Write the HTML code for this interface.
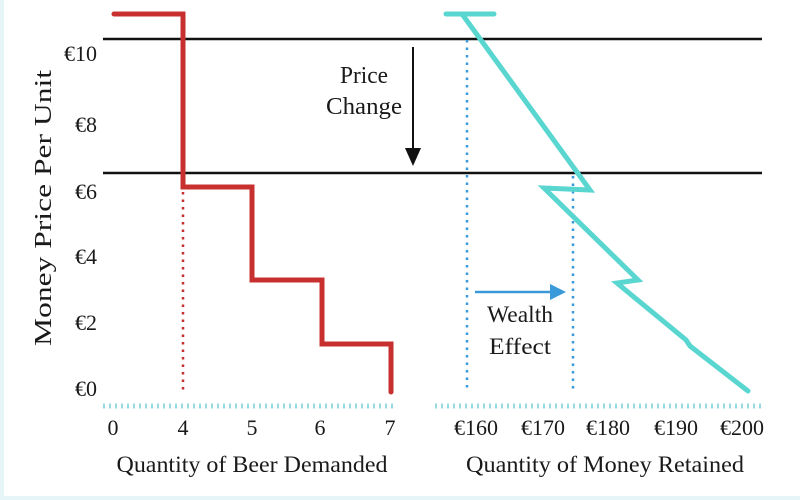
<!DOCTYPE html>
<html><head><meta charset="utf-8"><style>
html,body{margin:0;padding:0;background:#fff}
svg{display:block}
text{font-family:"Liberation Serif",serif;fill:#1a1a1a}
</style></head><body>
<svg width="800" height="500" viewBox="0 0 800 500" xmlns="http://www.w3.org/2000/svg">
<rect x="0" y="0" width="800" height="500" fill="#fff"/>
<rect x="0" y="0" width="4" height="500" fill="#e6f5f8"/>
<rect x="0" y="496" width="800" height="4" fill="#e6f5f8"/>
<line x1="103" y1="39" x2="762" y2="39" stroke="#111" stroke-width="2.5"/>
<line x1="103" y1="173" x2="762" y2="173" stroke="#111" stroke-width="2.5"/>
<line x1="413" y1="47" x2="413" y2="150" stroke="#111" stroke-width="2"/>
<polygon points="405,148 421,148 413,166" fill="#111"/>
<text x="364" y="83" font-size="24" text-anchor="middle" textLength="48" lengthAdjust="spacingAndGlyphs">Price</text>
<text x="364" y="114" font-size="24" text-anchor="middle" textLength="76" lengthAdjust="spacingAndGlyphs">Change</text>
<line x1="183" y1="192" x2="183" y2="392" stroke="#c62f2f" stroke-width="2.5" stroke-dasharray="2.5,5"/>
<polyline points="114,14 183,14 183,187 252,187 252,280 322,280 322,344 391,344 391,392" fill="none" stroke="#c8302f" stroke-width="5" stroke-linecap="round" stroke-linejoin="miter"/>
<line x1="467" y1="40" x2="467" y2="390" stroke="#3a9ad9" stroke-width="2.5" stroke-dasharray="2.5,5"/>
<line x1="573" y1="176" x2="573" y2="390" stroke="#3a9ad9" stroke-width="2.5" stroke-dasharray="2.5,5"/>
<polyline points="446,14 494,14" fill="none" stroke="#5ad6d0" stroke-width="5" stroke-linecap="round"/>
<polyline points="462,14 590,190 544,188 638,280 617,283 686,340 690,346 748,391" fill="none" stroke="#5ad6d0" stroke-width="5" stroke-linecap="round" stroke-linejoin="miter"/>
<line x1="475" y1="292" x2="552" y2="292" stroke="#3a9ad9" stroke-width="2.5"/>
<polygon points="550,284 566,292 550,300" fill="#3a9ad9"/>
<text x="520" y="322" font-size="23" text-anchor="middle" textLength="66" lengthAdjust="spacingAndGlyphs">Wealth</text>
<text x="520" y="354" font-size="23" text-anchor="middle" textLength="62" lengthAdjust="spacingAndGlyphs">Effect</text>
<line x1="103" y1="406" x2="393" y2="406" stroke="#9ad8e2" stroke-width="5" stroke-dasharray="2,4"/>
<line x1="435" y1="406" x2="762" y2="406" stroke="#9ad8e2" stroke-width="5" stroke-dasharray="2,4"/>
<g font-size="22" text-anchor="end">
<text x="97" y="61">€10</text>
<text x="97" y="132">€8</text>
<text x="97" y="199">€6</text>
<text x="97" y="264">€4</text>
<text x="97" y="330">€2</text>
<text x="97" y="396">€0</text>
</g>
<text transform="translate(51,208) rotate(-90)" font-size="24" text-anchor="middle" textLength="276" lengthAdjust="spacingAndGlyphs">Money Price Per Unit</text>
<g font-size="22" text-anchor="middle">
<text x="113" y="435">0</text>
<text x="183" y="435">4</text>
<text x="252" y="435">5</text>
<text x="320" y="435">6</text>
<text x="390" y="435">7</text>
<text x="476" y="435">€160</text>
<text x="543" y="435">€170</text>
<text x="608" y="435">€180</text>
<text x="676" y="435">€190</text>
<text x="742" y="435">€200</text>
</g>
<text x="252" y="472" font-size="23" text-anchor="middle" textLength="271" lengthAdjust="spacingAndGlyphs">Quantity of Beer Demanded</text>
<text x="605" y="472" font-size="23" text-anchor="middle" textLength="278" lengthAdjust="spacingAndGlyphs">Quantity of Money Retained</text>
</svg>
</body></html>
